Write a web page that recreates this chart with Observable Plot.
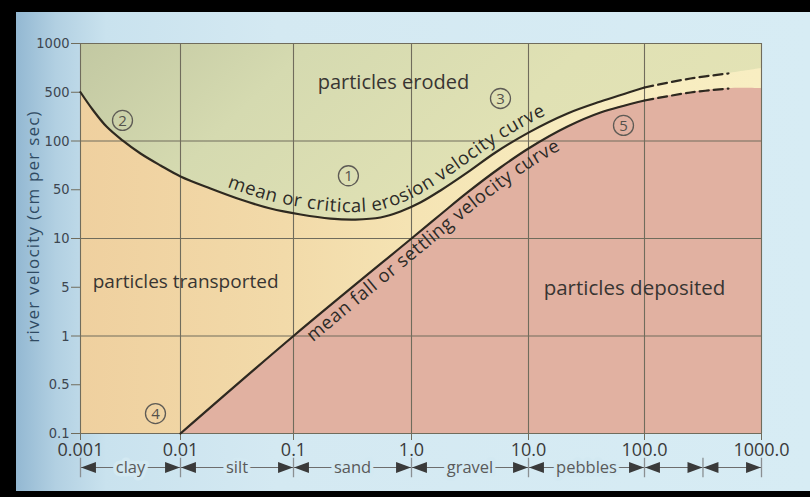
<!DOCTYPE html>
<html>
<head>
<meta charset="utf-8">
<script src="https://cdn.jsdelivr.net/npm/d3@7"></script>
<script src="https://cdn.jsdelivr.net/npm/@observablehq/plot@0.6"></script>
<style>
  html, body { margin: 0; padding: 0; background: #000; }
  #frame { position: relative; width: 810px; height: 497px; background: #000; overflow: hidden; }
  #bg { position: absolute; left: 16px; top: 12px; width: 794px; height: 479px;
        background: linear-gradient(90deg, #93b8d2 0px, #b2d0e2 40px, #c9e2ee 90px, #d4e9f2 260px, #d7ecf4 100%); }
  #chart { position: absolute; left: 0; top: 0; }
</style>
</head>
<body>
<div id="frame"><div id="bg"></div><div id="chart"></div></div>
<script>
// ---- axis ticks / labels ----
const xTicks = [0.001, 0.01, 0.1, 1, 10, 100, 1000];
const xTickLabels = ["0.001", "0.01", "0.1", "1.0", "10.0", "100.0", "1000.0"];
const yTicks = [0.1, 0.5, 1, 5, 10, 50, 100, 500, 1000];
const yTickLabels = ["0.1", "0.5", "1", "5", "10", "50", "100", "500", "1000"];
const yGrid = [0.1, 1, 10, 100, 1000];

// ---- mean / critical erosion velocity curve (size mm, velocity cm/s) ----
const erosionSize = [0.001, 0.00132, 0.00182, 0.00263, 0.00398, 0.00631, 0.01, 0.0184, 0.034, 0.0625, 0.115, 0.206, 0.335, 0.546, 0.807, 1.19, 1.77, 3.01, 5.22, 10, 21.7, 41.8, 100];
const erosionVel  = [500, 283, 161, 102, 83.7, 70.6, 60.4, 50.9, 36.2, 26.9, 22.1, 19.3, 18.7, 20.0, 24.4, 32.8, 48.8, 64, 84.9, 132, 248, 368, 535];
const erosionDashSize = [100, 247, 522];
const erosionDashVel  = [535, 608, 653];

// ---- mean fall / settling velocity curve ----
const settlingSize = [0.01, 0.1, 1, 1.77, 3.01, 5.76, 10, 21.7, 41.8, 100];
const settlingVel  = [0.1, 1, 10, 22.1, 45.8, 68.6, 89.9, 161, 256, 381];
const settlingDashSize = [100, 247, 522];
const settlingDashVel  = [381, 496, 527];

// boundaries of the shaded zones at the right-hand edge
const bandEdgeSize = [1000];
const bandEdgeVel = [701];
const pinkEdgeSize = [1000];
const pinkEdgeVel = [527];

// ---- circled reference numbers ----
const markerNum = ["1", "2", "3", "4", "5"];
const markerSize = [0.292, 0.00263, 5.76, 0.00562, 65.9];
const markerVel = [61, 197, 407, 0.193, 167];

// ---- region labels ----
const regionText = ["particles eroded", "particles transported", "particles deposited"];
const regionSize = [0.703, 0.0111, 82];
const regionVel = [574, 5.43, 4.8];
const regionFont = [20, 19, 20.5];

// ---- grain size classes ----
const classEdges = [0.001, 0.01, 0.1, 1, 10, 100, 316, 1000];
const classNames = ["clay", "silt", "sand", "gravel", "pebbles", "", ""];

const erosionTitle = "mean or critical erosion velocity curve";
const settlingTitle = "mean fall or settling velocity curve";
const yTitle = "river velocity (cm per sec)";

// ---- tables built from the arrays ----
const zip = (xs, ys) => xs.map((x, i) => ({x, y: ys[i]}));
const erosion = zip(erosionSize, erosionVel);
const erosionDash = zip(erosionDashSize, erosionDashVel);
const settling = zip(settlingSize, settlingVel);
const settlingDash = zip(settlingDashSize, settlingDashVel);
const bandTop = erosion.concat(erosionDash.slice(1), zip(bandEdgeSize, bandEdgeVel));
const pinkTop = settling.concat(settlingDash.slice(1), zip(pinkEdgeSize, pinkEdgeVel));
const markers = markerNum.map((t, i) => ({t, x: markerSize[i], y: markerVel[i]}));
const regions = regionText.map((t, i) => ({t, x: regionSize[i], y: regionVel[i], f: regionFont[i]}));
const classes = classNames.map((n, i) => ({n, a: classEdges[i], b: classEdges[i + 1], m: Math.sqrt(classEdges[i] * classEdges[i + 1])}));
const yLabelRows = yTicks.map((v, i) => ({v, t: yTickLabels[i]}));

const yStep = 48.75;
const CURVE = "catmull-rom";
const lineColor = "#2e2920";
const gridColor = "#706c5c";
const bgBlue = "#d3e9f2";
const sans = "'Open Sans', 'Noto Sans', sans-serif";
const narrow = "'Liberation Sans Narrow', 'DejaVu Sans Condensed', sans-serif";

// custom arrow-row symbols
const triRight = {draw(ctx, size) { const s = Math.sqrt(size); ctx.moveTo(s*0.6, 0); ctx.lineTo(-s*0.6, -s*0.45); ctx.lineTo(-s*0.6, s*0.45); ctx.closePath(); }};
const triLeft  = {draw(ctx, size) { const s = Math.sqrt(size); ctx.moveTo(-s*0.6, 0); ctx.lineTo(s*0.6, -s*0.45); ctx.lineTo(s*0.6, s*0.45); ctx.closePath(); }};
const bar      = {draw(ctx, size) { const s = Math.sqrt(size); ctx.moveTo(0, -s*0.5); ctx.lineTo(0, s*0.5); }};

function defsMark() {
  const defs = d3.create("svg:defs");
  const g1 = defs.append("linearGradient").attr("id", "greenGrad").attr("x1", 0).attr("y1", 0).attr("x2", 1).attr("y2", 0.6);
  [[0, "#c2c8a2"], [0.25, "#d5dab0"], [0.55, "#e0e1b4"], [1, "#e6e4b6"]].forEach(([o, c]) => g1.append("stop").attr("offset", o).attr("stop-color", c));
  const g2 = defs.append("linearGradient").attr("id", "peachGrad").attr("x1", 0).attr("y1", 0).attr("x2", 1).attr("y2", 0);
  [[0, "#efd09f"], [0.3, "#f2daa9"], [0.5, "#f5e4b4"], [0.7, "#f7ebbe"], [1, "#f8eec2"]].forEach(([o, c]) => g2.append("stop").attr("offset", o).attr("stop-color", c));
  return defs.node();
}

function offsetPts(pts, d) {
  return pts.map((p, i) => {
    const a = pts[Math.max(0, i - 1)], b = pts[Math.min(pts.length - 1, i + 1)];
    let tx = b[0] - a[0], ty = b[1] - a[1];
    const L = Math.hypot(tx, ty); tx /= L; ty /= L;
    return [p[0] + d * ty, p[1] - d * tx];
  });
}
function lengthToX(pts, xt) {
  let s = 0;
  for (let i = 1; i < pts.length; i++) {
    const [x0, y0] = pts[i - 1], [x1, y1] = pts[i];
    const L = Math.hypot(x1 - x0, y1 - y0);
    if (x1 >= xt) { return s + L * (xt - x0) / (x1 - x0); }
    s += L;
  }
  return s;
}

function curveTextMark(data, id, offset, startX, text, size, spacing) {
  return (index, scales) => {
    const pts = data.map(d => [scales.x(d.x), scales.y(d.y)]);
    const off = offsetPts(pts, offset);
    const g = d3.create("svg:g");
    g.append("path").attr("id", id).attr("fill", "none").attr("d", d3.line().curve(d3.curveCatmullRom)(off));
    g.append("text").attr("font-family", sans).attr("font-size", size).attr("fill", "#2c2a26")
      .attr("text-anchor", "start").attr("letter-spacing", spacing)
      .append("textPath").attr("href", "#" + id).attr("startOffset", lengthToX(off, startX)).text(text);
    return g.node();
  };
}

const plot = Plot.plot({
  width: 810,
  height: 497,
  marginLeft: 80,
  marginRight: 49,
  marginTop: 43,
  marginBottom: 64,
  style: {fontFamily: sans, background: "transparent", color: "#3a3a3a"},
  x: {type: "log", domain: xTicks, range: [80, 180, 293, 411, 528, 644, 761]},
  y: {type: "log", domain: yTicks, range: yTicks.map((d, i) => 433 - i * yStep)},
  marks: [
    defsMark,
    // zones
    Plot.frame({fill: "url(#greenGrad)", stroke: "none"}),
    Plot.areaY(bandTop, {x: "x", y1: 0.1, y2: "y", fill: "url(#peachGrad)", curve: CURVE}),
    Plot.areaY(pinkTop, {x: "x", y1: 0.1, y2: "y", fill: "#e1b1a1", curve: CURVE}),
    // grid
    Plot.ruleX(xTicks, {y1: 0.1, y2: 1000, stroke: gridColor, strokeWidth: 1.1}),
    Plot.ruleY(yGrid, {x1: 0.001, x2: 1000, stroke: gridColor, strokeWidth: 1.1}),
    // axes
    Plot.axisX({ticks: xTicks, tickFormat: d => xTickLabels[xTicks.indexOf(d)], tickSize: 7, tickPadding: 3,
                fontSize: 18, label: null, color: "#3a3a3a", stroke: gridColor}),
    Plot.axisY({ticks: yTicks, tickFormat: () => "", tickSize: 9, label: null, stroke: gridColor}),
    Plot.text(yLabelRows, {x: 0.001, y: "v", text: "t", textAnchor: "end", dx: -11, fontSize: 14.5,
                           fontFamily: narrow, fill: "#3d4650"}),
    Plot.text([yTitle], {frameAnchor: "left", textAnchor: "middle", dx: -47, dy: -12, rotate: -90,
                         fontSize: 17, fill: "#2f4a62"}),
    // curves
    Plot.line(erosion, {x: "x", y: "y", curve: CURVE, stroke: lineColor, strokeWidth: 2.2}),
    Plot.line(erosionDash, {x: "x", y: "y", curve: CURVE, stroke: lineColor, strokeWidth: 2.2, strokeDasharray: "9,5"}),
    Plot.line(settling, {x: "x", y: "y", curve: CURVE, stroke: lineColor, strokeWidth: 2.2}),
    Plot.line(settlingDash, {x: "x", y: "y", curve: CURVE, stroke: lineColor, strokeWidth: 2.2, strokeDasharray: "9,5"}),
    curveTextMark(erosion.concat(erosionDash.slice(1)), "erosionTextPath", 7, 227, erosionTitle, 18.5, 0.6),
    curveTextMark(settling, "settlingTextPath", -18, 313, settlingTitle, 18.5, 0.6),
    // region labels
    Plot.text(regions, {x: "x", y: "y", text: "t", fontSize: "f", fill: "#383532"}),
    // circled numbers
    Plot.dot(markers, {x: "x", y: "y", r: 10, stroke: "#5e5b55", strokeWidth: 1.3, fill: "none"}),
    Plot.text(markers, {x: "x", y: "y", text: "t", fontSize: 15, fill: "#55524c", dy: 0.5}),
    // grain size classes row
    Plot.ruleY(classes, {x1: "a", x2: "b", y: 0.1, dy: 34, stroke: "#6d6d6d", strokeWidth: 1}),
    Plot.dot(classEdges, {x: d => d, y: 0.1, dy: 34, symbol: bar, r: 11, stroke: "#8a8f92", strokeWidth: 1.3, fill: "none"}),
    Plot.dot(classes, {x: "a", y: 0.1, dy: 34, dx: 8, symbol: triLeft, r: 7, fill: "#3a3a3a", stroke: "none"}),
    Plot.dot(classes, {x: "b", y: 0.1, dy: 34, dx: -8, symbol: triRight, r: 7, fill: "#3a3a3a", stroke: "none"}),
    Plot.text(classes.filter(c => c.n), {x: "m", y: 0.1, dy: 34, text: "n", fontSize: 16.5, fill: "#5a5a5a",
              stroke: bgBlue, strokeWidth: 7})
  ]
});
d3.select(plot).selectAll("text").filter(function() { return this.textContent === yTitle; })
  .style("letter-spacing", "1.2px");
document.getElementById("chart").appendChild(plot);
</script>
</body>
</html>
